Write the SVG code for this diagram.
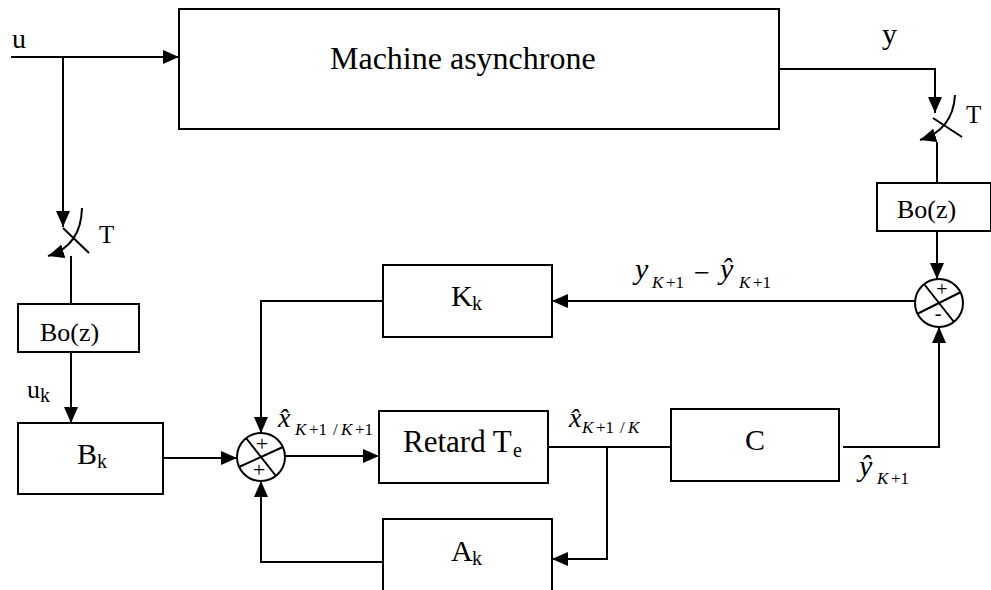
<svg xmlns="http://www.w3.org/2000/svg" width="991" height="590" viewBox="0 0 991 590">
<defs>
<marker id="ah" markerUnits="userSpaceOnUse" markerWidth="16" markerHeight="14" refX="16" refY="7" orient="auto" viewBox="0 0 16 14">
<path d="M0,0 L16,7 L0,14 Z" fill="#000"/>
</marker>
<style>
.bx{fill:#fff;stroke:#000;stroke-width:2}
.ln{fill:none;stroke:#000;stroke-width:2}
.ar{fill:none;stroke:#000;stroke-width:2;marker-end:url(#ah)}
text{font-family:"Liberation Serif","Times New Roman",serif;fill:#000}
.m{font-size:30px}
.s{font-size:20px}
.it{font-style:italic}
.sub{font-size:17px}
.sg{font-size:22px;text-anchor:middle}
.sg2{font-size:20px;text-anchor:middle}
</style>
</defs>
<rect width="991" height="590" fill="#fff"/>

<g id="connectors">
<path class="ar" d="M11,57 H179"/>
<path class="ar" d="M63,57 V227"/>
<path class="ln" d="M779,69 H935 V97"/>
<path class="ar" d="M935,69 V113"/>
<path class="ar" d="M71,352 V423"/>
<path class="ar" d="M163,458 H237"/>
<path class="ar" d="M383,301 H261 V433"/>
<path class="ar" d="M383,562 H261 V481"/>
<path class="ar" d="M285,456 H379"/>
<path class="ln" d="M548,447 H671"/>
<path class="ar" d="M607,447 V559 H552"/>
<path class="ar" d="M843,447 H939 V327"/>
<path class="ar" d="M937,231 V279"/>
<path class="ar" d="M915,301 H552"/>
</g>

<g id="sampler-u">
<path class="ln" d="M63,228 L89,253"/>
<path class="ar" d="M82,208 Q81,246 48,256"/>
<path class="ln" d="M71,256 V304"/>
<text x="99" y="243" style="font-size:25px">T</text>
</g>

<g id="sampler-y">
<path class="ln" d="M933,118 L962,137"/>
<path class="ar" d="M955,95 Q953,130 920,140"/>
<path class="ln" d="M937,142 V183"/>
<text x="966" y="123" style="font-size:25px">T</text>
</g>

<g id="machine">
<rect class="bx" x="179" y="9" width="600" height="120"/>
<text x="330" y="69" style="font-size:32px">Machine asynchrone</text>
</g>

<g id="bo-left">
<rect class="bx" x="18" y="304" width="121" height="48"/>
<text x="40" y="341" style="font-size:26px">Bo(z)</text>
</g>

<g id="bo-right">
<rect class="bx" x="877" y="183" width="114" height="48"/>
<text x="897" y="218" style="font-size:26px">Bo(z)</text>
</g>

<g id="bk">
<rect class="bx" x="18" y="423" width="145" height="71"/>
<text x="77" y="464" class="m">B</text>
<text x="97" y="468" class="s">k</text>
</g>

<g id="kk">
<rect class="bx" x="383" y="265" width="169" height="72"/>
<text x="451" y="306" class="m">K</text>
<text x="472" y="310" class="s">k</text>
</g>

<g id="retard">
<rect class="bx" x="379" y="411" width="169" height="72"/>
<text x="403" y="452" style="font-size:31px">Retard T</text>
<text x="513" y="457" class="s">e</text>
</g>

<g id="ak">
<rect class="bx" x="383" y="519" width="169" height="90"/>
<text x="451" y="561" class="m">A</text>
<text x="472" y="565" class="s">k</text>
</g>

<g id="c">
<rect class="bx" x="671" y="409" width="168" height="72"/>
<text x="745" y="450" class="m">C</text>
</g>

<g id="sum1">
<circle class="bx" cx="261" cy="457" r="24"/>
<path class="ln" d="M246,438 L276,476 M239,467 L283,447"/>
<text x="262" y="451" class="sg">+</text>
<text x="259" y="477" class="sg">+</text>
</g>

<g id="sum2">
<circle class="bx" cx="939" cy="303" r="24"/>
<path class="ln" d="M924,284 L954,322 M917,314 L961,292"/>
<text x="942" y="296" class="sg2">+</text>
<text x="938" y="320" class="sg2">-</text>
</g>

<g id="labels">
<text x="12" y="48" style="font-size:28px">u</text>
<text x="882" y="44" class="m">y</text>
<text x="27" y="398" style="font-size:26px">u</text>
<text x="40" y="402" class="s">k</text>

<text x="278" y="427" class="it" style="font-size:28px">x&#x302;</text>
<text y="435" class="sub"><tspan x="295" class="it">K</tspan><tspan x="309">+1</tspan><tspan x="333">/</tspan><tspan x="341" class="it">K</tspan><tspan x="355">+1</tspan></text>

<text x="569" y="427" class="it" style="font-size:28px">x&#x302;</text>
<text y="433" class="sub"><tspan x="582" class="it">K</tspan><tspan x="596">+1</tspan><tspan x="620">/</tspan><tspan x="628" class="it">K</tspan></text>

<text x="635" y="279" class="it" style="font-size:30px">y</text>
<text y="288" class="sub"><tspan x="652" class="it">K</tspan><tspan x="666">+1</tspan></text>
<text x="694" y="282" style="font-size:28px">−</text>
<text x="720" y="279" class="it" style="font-size:30px">y&#x302;</text>
<text y="288" class="sub"><tspan x="739" class="it">K</tspan><tspan x="753">+1</tspan></text>

<text x="859" y="476" class="it" style="font-size:30px">y&#x302;</text>
<text y="484" class="sub"><tspan x="877" class="it">K</tspan><tspan x="891">+1</tspan></text>
</g>
</svg>
